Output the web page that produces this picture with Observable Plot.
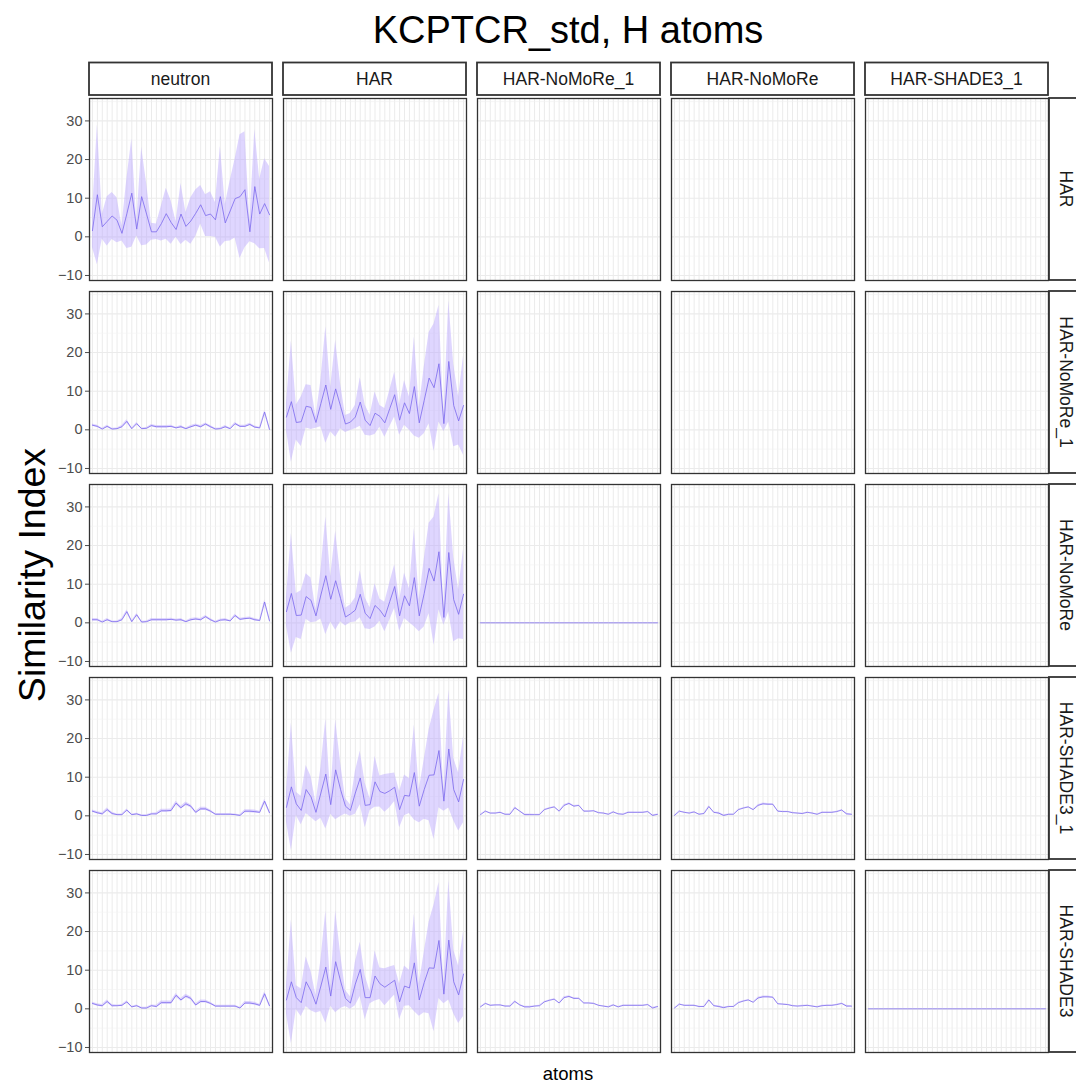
<!DOCTYPE html>
<html>
<head>
<meta charset="utf-8">
<script src="https://cdn.jsdelivr.net/npm/d3@7"></script>
<script src="https://cdn.jsdelivr.net/npm/@observablehq/plot@0.6"></script>
<style>
  html, body { margin: 0; padding: 0; background: #fff; }
  #wrap { position: relative; width: 1076px; height: 1083px; overflow: hidden; background: #fff;
          font-family: "Liberation Sans", Arial, sans-serif; }
  #title { position: absolute; left: 88px; width: 960px; top: 11px; text-align: center;
           font-size: 38px; line-height: 1; color: #000; }
  #chart { position: absolute; left: 0; top: 58px; }
</style>
</head>
<body>
<div id="wrap">
  <div id="title">KCPTCR_std, H atoms</div>
  <div id="chart"></div>
</div>
<script>
// ---------- categories ----------
const atoms = ["H1","H2","H3","H4","H5","H6","H7","H8","H9","H10","H11","H12","H13","H14","H15","H16","H17","H18","H19",
  "H20","H21","H22","H23","H24","H25","H26","H27","H28","H29","H30","H31","H32","H33","H34","H35","H36","H37"];
const refs = ["neutron", "HAR", "HAR-NoMoRe_1", "HAR-NoMoRe", "HAR-SHADE3_1"];
const models = ["HAR", "HAR-NoMoRe_1", "HAR-NoMoRe", "HAR-SHADE3_1", "HAR-SHADE3"];
const majorY = [-10, 0, 10, 20, 30];
const minorY = [-5, 5, 15, 25, 35];

// ---------- series (mean and standard deviation per atom) ----------
const mean_HAR_neutron = [1.6,10.9,2.6,4.0,5.4,4.3,0.9,6.0,11.3,2.0,10.4,5.9,1.3,1.3,3.4,6.0,3.7,1.9,5.9,2.7,4.1,6.1,8.3,5.5,5.9,4.4,10.4,3.6,6.7,9.9,10.4,12.2,1.3,13.0,5.9,8.6,5.7];
const sd_HAR_neutron   = [4.4,18.1,3.2,6.4,6.1,5.8,2.0,9.0,14.0,1.8,12.7,8.0,2.2,2.0,4.5,6.6,5.6,2.0,7.9,3.6,6.0,6.0,5.0,5.4,5.8,4.5,13.0,4.8,7.8,10.2,16.0,15.0,2.6,14.8,9.0,11.6,12.5];

const mean_NoMoRe1_HAR = [3.3,7.3,1.9,2.1,6.1,5.8,1.9,6.8,11.6,5.3,10.6,6.1,1.5,2.0,3.3,7.2,2.5,1.1,4.3,3.5,1.8,5.5,9.1,2.5,7.0,4.2,11.2,1.8,7.6,13.4,10.9,17.1,1.6,17.7,6.3,2.3,6.3];
const sd_NoMoRe1_HAR   = [3.5,15.7,4.5,6.4,5.6,5.7,1.5,6.0,15.1,5.8,12.5,5.8,2.2,2.2,3.0,6.3,3.9,2.7,5.5,2.8,3.7,4.7,5.8,3.9,5.8,4.3,12.8,4.0,8.6,11.8,16.5,15.1,2.0,15.7,10.7,6.2,12.9];

const mean_NoMoRe_HAR = [2.9,7.6,1.9,2.0,6.8,5.8,1.8,7.2,12.2,6.1,10.9,6.3,1.5,2.3,3.3,7.4,2.5,1.1,4.5,3.3,1.5,5.5,9.4,1.8,7.0,4.4,11.7,1.8,7.6,14.1,10.8,18.4,1.4,18.2,6.0,2.2,7.4];
const sd_NoMoRe_HAR   = [3.6,15.5,5.7,6.3,5.9,5.8,1.6,6.2,15.2,5.9,12.8,6.0,2.3,2.3,3.1,6.1,4.0,2.8,5.6,2.9,3.8,4.8,5.6,4.0,5.9,4.4,12.7,4.1,8.7,11.7,16.6,15.0,2.0,15.3,10.9,6.3,11.7];

const mean_SHADE31_HAR = [2.2,7.5,3.1,1.4,6.8,4.9,0.9,5.9,10.8,2.9,11.9,6.8,2.5,1.4,5.9,9.8,2.7,2.9,8.8,6.3,5.8,6.5,7.4,1.6,5.3,5.1,11.2,2.5,6.8,10.5,10.6,16.9,3.8,17.3,6.8,3.6,9.4];
const sd_SHADE31_HAR   = [3.8,16.5,3.0,3.7,6.2,5.3,2.4,6.5,14.2,2.5,12.9,7.0,2.0,1.5,5.5,6.9,5.8,1.5,6.6,4.0,4.9,4.4,3.7,4.7,5.3,4.5,12.3,4.3,7.7,11.8,16.7,14.8,2.6,15.3,8.1,7.5,11.2];

const mean_SHADE3_HAR = [2.3,7.0,2.9,1.6,7.0,4.6,1.2,5.9,10.8,3.3,12.2,7.2,2.7,1.5,6.4,10.2,2.9,2.9,8.5,6.5,5.6,6.5,7.4,1.8,5.9,5.4,11.9,2.3,6.8,10.6,10.5,17.7,3.8,17.8,7.0,3.6,9.0];
const sd_SHADE3_HAR   = [3.6,16.0,3.1,3.6,6.4,5.1,2.3,6.6,14.5,2.6,13.2,7.1,2.1,1.6,5.6,7.0,5.7,1.6,6.5,4.1,4.8,4.3,3.8,4.6,5.2,4.6,12.6,4.2,7.8,11.9,16.4,15.0,2.5,15.5,8.3,7.4,11.0];

const mean_NoMoRe1_neutron = [1.2,0.9,0.2,0.9,0.2,0.3,0.8,2.2,0.3,1.6,0.3,0.4,1.1,0.8,0.8,0.8,0.9,0.5,0.8,0.3,0.8,1.2,0.8,1.5,0.8,0.2,0.3,0.8,0.3,1.6,0.9,0.9,1.4,0.7,0.5,4.6,0.1];
const mean_NoMoRe_neutron  = [0.8,0.8,0.2,0.8,0.3,0.3,0.8,2.9,0.3,2.1,0.2,0.3,0.8,0.8,0.8,0.8,0.9,0.7,0.8,0.3,0.8,1.0,0.8,1.6,0.8,0.2,0.7,0.8,0.5,1.9,0.9,1.1,1.2,0.8,0.6,5.4,0.5];
const sd_NoMoRe_neutron    = [0.3,0.3,0.2,0.3,0.2,0.2,0.3,0.4,0.2,0.3,0.2,0.2,0.3,0.3,0.3,0.3,0.3,0.2,0.3,0.2,0.3,0.3,0.3,0.3,0.3,0.2,0.2,0.3,0.2,0.3,0.3,0.3,0.3,0.3,0.2,0.5,0.2];

const mean_SHADE31_neutron = [1.2,0.8,0.5,1.6,0.6,0.3,0.3,1.5,0.3,0.5,0.1,0.1,0.5,0.5,1.3,1.3,1.4,3.3,2.1,3.1,2.5,0.9,1.8,1.8,1.2,0.4,0.4,0.4,0.4,0.3,0.1,1.2,1.2,1.1,0.9,3.8,0.8];
const mean_SHADE3_neutron  = [1.4,1.0,0.8,1.9,0.8,0.8,0.9,1.8,0.5,0.8,0.2,0.2,0.8,0.6,1.6,1.6,1.6,3.5,2.3,3.3,2.7,1.0,1.9,1.9,1.4,0.7,0.7,0.7,0.7,0.7,0.2,1.5,1.5,1.3,0.9,3.9,0.8];
const sd_SHADE_neutron     = [0.3,0.3,0.3,0.4,0.3,0.2,0.2,0.3,0.2,0.2,0.2,0.2,0.2,0.3,0.4,0.4,0.4,0.5,0.4,0.5,0.4,0.3,0.4,0.4,0.3,0.2,0.2,0.2,0.2,0.2,0.2,0.4,0.4,0.4,0.3,0.5,0.3];

const mean_SHADE31_NoMoRe1 = [0.3,1.2,0.7,0.7,0.9,0.4,0.4,2.1,1.2,0.3,0.3,0.3,0.3,1.6,2.0,2.3,1.2,2.7,3.2,2.5,2.7,1.2,1.2,1.3,0.8,0.7,0.4,1.0,0.5,0.4,0.9,0.9,0.9,0.9,1.1,0.1,0.4];
const mean_SHADE31_NoMoRe  = [0.1,1.2,0.9,0.7,1.0,0.4,0.6,2.4,0.9,0.7,0.1,0.4,0.4,1.6,2.0,2.3,1.6,2.7,3.1,3.0,3.0,1.2,1.1,1.1,0.8,0.7,0.6,0.9,0.7,0.4,0.9,0.9,0.9,1.1,1.5,0.5,0.4];
const mean_SHADE3_NoMoRe1  = [0.5,1.4,0.9,1.0,1.0,0.7,0.7,1.9,1.0,0.5,0.5,0.7,0.8,1.8,2.2,2.5,1.5,2.9,3.2,2.7,2.7,1.5,1.5,1.4,0.9,0.7,0.5,1.0,0.5,0.9,0.9,0.9,0.9,0.9,1.1,0.2,0.6];
const mean_SHADE3_NoMoRe   = [0.2,1.2,0.9,0.9,0.9,0.6,0.6,2.3,0.8,0.6,0.3,0.6,0.6,1.6,2.0,2.3,1.7,2.8,3.1,3.1,3.0,1.3,1.2,1.1,0.8,0.7,0.8,0.9,0.7,0.5,0.8,0.9,0.9,1.1,1.4,0.7,0.7];
const sd_SHADE_NoMoRe      = [0.1,0.1,0.1,0.1,0.1,0.1,0.1,0.2,0.1,0.2,0.2,0.1,0.1,0.1,0.1,0.1,0.1,0.2,0.2,0.2,0.1,0.1,0.1,0.1,0.1,0.1,0.1,0.1,0.1,0.1,0.1,0.1,0.1,0.1,0.1,0.2,0.1];

const mean_identical = [0,0,0,0,0,0,0,0,0,0,0,0,0,0,0,0,0,0,0,0,0,0,0,0,0,0,0,0,0,0,0,0,0,0,0,0,0];
const sd_identical   = [0,0,0,0,0,0,0,0,0,0,0,0,0,0,0,0,0,0,0,0,0,0,0,0,0,0,0,0,0,0,0,0,0,0,0,0,0];

// ---------- panel table ----------
const panels = [
  {model: "HAR",          ref: "neutron",      mean: mean_HAR_neutron,      sd: sd_HAR_neutron},
  {model: "HAR-NoMoRe_1", ref: "neutron",      mean: mean_NoMoRe1_neutron,  sd: sd_NoMoRe_neutron},
  {model: "HAR-NoMoRe_1", ref: "HAR",          mean: mean_NoMoRe1_HAR,      sd: sd_NoMoRe1_HAR},
  {model: "HAR-NoMoRe",   ref: "neutron",      mean: mean_NoMoRe_neutron,   sd: sd_NoMoRe_neutron},
  {model: "HAR-NoMoRe",   ref: "HAR",          mean: mean_NoMoRe_HAR,       sd: sd_NoMoRe_HAR},
  {model: "HAR-NoMoRe",   ref: "HAR-NoMoRe_1", mean: mean_identical,        sd: sd_identical},
  {model: "HAR-SHADE3_1", ref: "neutron",      mean: mean_SHADE31_neutron,  sd: sd_SHADE_neutron},
  {model: "HAR-SHADE3_1", ref: "HAR",          mean: mean_SHADE31_HAR,      sd: sd_SHADE31_HAR},
  {model: "HAR-SHADE3_1", ref: "HAR-NoMoRe_1", mean: mean_SHADE31_NoMoRe1,  sd: sd_SHADE_NoMoRe},
  {model: "HAR-SHADE3_1", ref: "HAR-NoMoRe",   mean: mean_SHADE31_NoMoRe,   sd: sd_SHADE_NoMoRe},
  {model: "HAR-SHADE3",   ref: "neutron",      mean: mean_SHADE3_neutron,   sd: sd_SHADE_neutron},
  {model: "HAR-SHADE3",   ref: "HAR",          mean: mean_SHADE3_HAR,       sd: sd_SHADE3_HAR},
  {model: "HAR-SHADE3",   ref: "HAR-NoMoRe_1", mean: mean_SHADE3_NoMoRe1,   sd: sd_SHADE_NoMoRe},
  {model: "HAR-SHADE3",   ref: "HAR-NoMoRe",   mean: mean_SHADE3_NoMoRe,    sd: sd_SHADE_NoMoRe},
  {model: "HAR-SHADE3",   ref: "HAR-SHADE3_1", mean: mean_identical,        sd: sd_identical}
];
const rows = panels.flatMap(p => atoms.map((a, i) => ({
  ref: p.ref, model: p.model, atom: a, mean: p.mean[i], lo: p.mean[i] - p.sd[i], hi: p.mean[i] + p.sd[i]
})));
const cells = refs.flatMap(r => models.map(m => ({ref: r, model: m})));
const gridXData = cells.flatMap(c => atoms.map(a => ({...c, atom: a})));

const W = 1076, H = 1025;
const M = {top: 38, right: 28, bottom: 29, left: 88};
const FONT = "'Liberation Sans', Arial, Helvetica, sans-serif";

const chart = Plot.plot({
  width: W, height: H,
  marginTop: M.top, marginRight: M.right, marginBottom: M.bottom, marginLeft: M.left,
  style: {background: "#fff", fontFamily: FONT, fontSize: "14.5px", color: "#4d4d4d", overflow: "visible"},
  x: {type: "point", domain: atoms, padding: 0.6, axis: null},
  y: {domain: [-11.3, 35.8], ticks: majorY, tickSize: 4, tickPadding: 3, label: null, axis: "left"},
  fx: {domain: refs, paddingInner: 0.058, paddingOuter: 0, axis: null, label: null},
  fy: {domain: models, paddingInner: 0.058, paddingOuter: 0, axis: null, label: null},
  marks: [
    Plot.ruleX(gridXData, {x: "atom", fx: "ref", fy: "model", stroke: "#ebebeb", strokeWidth: 1}),
    Plot.ruleY(minorY, {stroke: "#f2f2f2", strokeWidth: 0.6}),
    Plot.ruleY(majorY, {stroke: "#ebebeb", strokeWidth: 1.1}),
    Plot.areaY(rows, {x: "atom", y1: "lo", y2: "hi", fx: "ref", fy: "model", fill: "#b9a3ff", fillOpacity: 0.45}),
    Plot.lineY(rows, {x: "atom", y: "mean", fx: "ref", fy: "model", stroke: "#7b68ee", strokeWidth: 0.8}),
    Plot.frame({stroke: "#333333", strokeWidth: 1.3})
  ]
});
document.getElementById("chart").appendChild(chart);

// ---------- facet strips and axis titles ----------
function bandOf(s) {
  const b = d3.scaleBand().domain(s.domain).range(s.range)
    .paddingInner(s.paddingInner ?? 0).paddingOuter(s.paddingOuter ?? 0).align(s.align ?? 0.5);
  if (s.round) b.round(true);
  return b;
}
const fx = bandOf(chart.scale("fx"));
const fy = bandOf(chart.scale("fy"));
const svg = d3.select(chart.tagName.toLowerCase() === "svg" ? chart : chart.querySelector("svg"));
const g = svg.append("g").attr("font-family", FONT);

const topStrips = g.append("g");
for (const r of refs) {
  topStrips.append("rect").attr("x", fx(r)).attr("y", 4.5).attr("width", fx.bandwidth()).attr("height", M.top - 5.5)
    .attr("fill", "#fff").attr("stroke", "#333").attr("stroke-width", 1.8);
  topStrips.append("text").attr("x", fx(r) + fx.bandwidth() / 2).attr("y", 4.5 + (M.top - 5.5) / 2)
    .attr("text-anchor", "middle").attr("dy", "0.36em").attr("font-size", 17.5).attr("fill", "#1a1a1a").text(r);
}
const rightX = W - M.right + 1;
const rightStrips = g.append("g");
for (const m of models) {
  rightStrips.append("rect").attr("x", rightX).attr("y", fy(m)).attr("width", 40).attr("height", fy.bandwidth())
    .attr("fill", "#fff").attr("stroke", "#333").attr("stroke-width", 1.8);
  const cx = rightX + 17, cy = fy(m) + fy.bandwidth() / 2;
  rightStrips.append("text").attr("transform", `translate(${cx},${cy}) rotate(90)`)
    .attr("text-anchor", "middle").attr("dy", "0.36em").attr("font-size", 17.5).attr("fill", "#1a1a1a").text(m);
}
g.append("text").attr("transform", `translate(31,${(M.top + H - M.bottom) / 2}) rotate(-90)`)
  .attr("text-anchor", "middle").attr("dy", "0.36em").attr("font-size", 37.5).attr("fill", "#000").text("Similarity Index");
g.append("text").attr("x", M.left + (W - M.left - M.right) / 2).attr("y", H - 10)
  .attr("text-anchor", "middle").attr("dy", "0.36em").attr("font-size", 18.5).attr("fill", "#000").text("atoms");
</script>
</body>
</html>
